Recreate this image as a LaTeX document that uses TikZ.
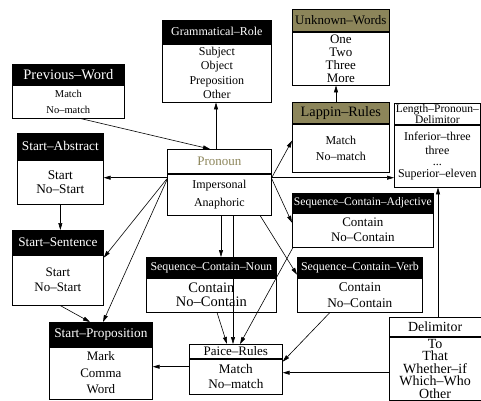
\documentclass[tikz,border=0pt]{standalone}
\usepackage{fontspec}
\setmainfont{Liberation Serif}
\usetikzlibrary{arrows.meta, calc, positioning}
\definecolor{Olive}{RGB}{140,133,90}
\newcommand{\boxfont}[2]{\fontsize{#1}{#2}\selectfont}
\tikzset{
  head/.style={draw, line width=0.7pt, inner sep=0pt, anchor=north west, align=center},
  hdblack/.style={head, fill=black, text=white},
  hdolive/.style={head, fill=Olive},
  hdwhite/.style={head, fill=white},
  body/.style={draw, line width=0.7pt, fill=white, inner sep=0pt, anchor=north, align=center},
  link/.style={-{Triangle[length=7pt,width=4pt]}, line width=0.6pt},
}

\begin{document}
\begin{tikzpicture}[x=1pt,y=-1pt]
  \useasboundingbox (0,0) rectangle (481,400);

  % top row
  \node[hdblack, minimum width=109pt, minimum height=23pt, font=\boxfont{12}{14}] (gramh) at (162,20) {Grammatical--Role};
  \node[body, minimum width=109pt, minimum height=58pt, font=\boxfont{12}{14.5}] (gram) at (gramh.south) {Subject\\Object\\Preposition\\Other};

  \node[hdolive, minimum width=97pt, minimum height=22pt, font=\boxfont{13}{14}] (unknh) at (292,9) {Unknown--Words};
  \node[body, minimum width=97pt, minimum height=53pt, font=\boxfont{13}{13}] (unkn) at (unknh.south) {One\\Two\\Three\\More};

  \node[hdolive, minimum width=97pt, minimum height=21pt, font=\boxfont{14.3}{15}] (lapph) at (292,102) {Lappin--Rules};
  \node[body, minimum width=97pt, minimum height=48pt, font=\boxfont{12}{16}] (lapp) at (lapph.south) {Match\\No--match};

  \node[hdwhite, minimum width=86pt, minimum height=21pt, font=\boxfont{11.5}{10}] (lpdh) at (394,103) {Length--Pronoun--\\Delimitor};
  \node[body, minimum width=86pt, minimum height=62pt, font=\boxfont{12}{13}] (lpd) at (lpdh.south) {Inferior--three\\[1pt]three\\[-2pt]...\\[-1pt]Superior--eleven};

  \node[hdblack, minimum width=112pt, minimum height=20pt, font=\boxfont{14.5}{15}] (prevh) at (12,64) {Previous--Word};
  \node[body, minimum width=112pt, minimum height=33pt, font=\boxfont{10.5}{16}] (prev) at (prevh.south) {Match\\No--match};

  % middle
  \node[hdblack, minimum width=86pt, minimum height=26pt, font=\boxfont{13.3}{14}] (sabsh) at (17,133) {Start--Abstract};
  \node[body, minimum width=86pt, minimum height=44pt, font=\boxfont{13.3}{14}] (sabs) at (sabsh.south) {Start\\No--Start};

  \node[hdwhite, minimum width=104pt, minimum height=24pt, font=\boxfont{13}{14}, text=Olive] (pronh) at (167,149) {Pronoun};
  \node[body, minimum width=104pt, minimum height=41pt, font=\boxfont{12}{18}] (pron) at (pronh.south) {Impersonal\\Anaphoric};

  \node[hdblack, minimum width=91pt, minimum height=24pt, font=\boxfont{13.2}{14}] (ssenh) at (12,230) {Start--Sentence};
  \node[body, minimum width=91pt, minimum height=50pt, font=\boxfont{13}{15}] (ssen) at (ssenh.south) {Start\\No--Start};

  \node[hdblack, minimum width=141pt, minimum height=19pt, font=\boxfont{11.6}{12}] (sadjh) at (292,193) {Sequence--Contain--Adjective};
  \node[body, minimum width=141pt, minimum height=34pt, font=\boxfont{13}{15}] (sadj) at (sadjh.south) {Contain\\No--Contain};

  \node[hdblack, minimum width=130pt, minimum height=20pt, font=\boxfont{11.9}{12}] (snounh) at (146,257) {Sequence--Contain--Noun};
  \node[body, minimum width=130pt, minimum height=34pt, font=\boxfont{14.5}{14}] (snoun) at (snounh.south) {Contain\\No--Contain};

  \node[hdblack, minimum width=125pt, minimum height=20pt, font=\boxfont{11.9}{12}] (sverbh) at (297,257) {Sequence--Contain--Verb};
  \node[body, minimum width=125pt, minimum height=34pt, font=\boxfont{13.3}{16}] (sverb) at (sverbh.south) {Contain\\No--Contain};

  % bottom row
  \node[hdblack, minimum width=103pt, minimum height=24pt, font=\boxfont{13.3}{14}] (sproph) at (49,322) {Start--Proposition};
  \node[body, minimum width=103pt, minimum height=52pt, font=\boxfont{13}{16.5}] (sprop) at (sproph.south) {Mark\\Comma\\Word};

  \node[hdwhite, minimum width=93pt, minimum height=14pt, font=\boxfont{13}{13}] (paiceh) at (189,344) {Paice--Rules};
  \node[body, minimum width=93pt, minimum height=35pt, font=\boxfont{13.2}{15}] (paice) at (paiceh.south) {Match\\No--match};

  \node[hdwhite, minimum width=91.5pt, minimum height=19pt, font=\boxfont{13.9}{14}] (delimh) at (389,317) {Delimitor};
  \node[body, minimum width=91.5pt, minimum height=63.5pt, font=\boxfont{14}{12.4}] (delim) at (delimh.south) {To\\That\\Whether--if\\Which--Who\\Other};

  % connectors
  \draw[link] ($(pronh.north west)+(49,0)$) -- ($(gram.south west)+(54,0)$);
  \draw[link] ($(prev.south west)+(68,0)$) -- ($(pronh.north west)+(43,0)$);
  \draw[link] ($(pron.north west)+(0,4)$) -- ($(sabs.north east)+(0,18)$);
  \draw[link] (sabs.south) -- (sabs.south |- ssenh.north);
  \draw[link] ($(pron.north west)+(0,5)$) -- ($(ssen.north east)+(0,3)$);
  \draw[link] ($(pron.north west)+(0,6)$) -- ($(sproph.north west)+(54,0)$);
  \draw[link] ($(ssen.south west)+(48,0)$) -- ($(sproph.north west)+(41,0)$);
  \draw[link] ($(pron.north east)+(0,4)$) -- ($(lapp.north west)+(0,17)$);
  \draw[link] ($(pron.north east)+(0,4)$) -- ($(lpd.north west)+(0,53)$);
  \draw[link] ($(lapph.north west)+(44,0)$) -- ($(unkn.south west)+(44,0)$);
  \draw[link] ($(pron.north east)+(0,5)$) -- ($(sadj.north west)+(0,10)$);
  \draw[link] ($(pron.south west)+(93,0)$) -- ($(sverb.north west)+(0,-3)$);
  \draw[link] ($(pron.south west)+(54,0)$) -- ($(snounh.north west)+(75,0)$);
  \draw[link] ($(pron.south west)+(66,0)$) -- ($(paiceh.north west)+(44,0)$);
  \draw[link] ($(snoun.south west)+(71,0)$) -- ($(paiceh.north west)+(38,0)$);
  \draw[link] ($(sadj.south west)+(1,0)$) -- ($(paiceh.north west)+(51,0)$);
  \draw[link] ($(sverb.south west)+(33,0)$) -- ($(paice.north east)+(0,3)$);
  \draw[link] ($(delim.north west)+(0,36)$) -- ($(paice.north east)+(0,14)$);
  \draw[link] ($(paice.north west)+(0,8)$) -- ($(sprop.north east)+(0,20)$);
  \draw[link] ($(delimh.north west)+(49,0)$) -- ($(lpd.south west)+(44,0)$);
\end{tikzpicture}
\end{document}
